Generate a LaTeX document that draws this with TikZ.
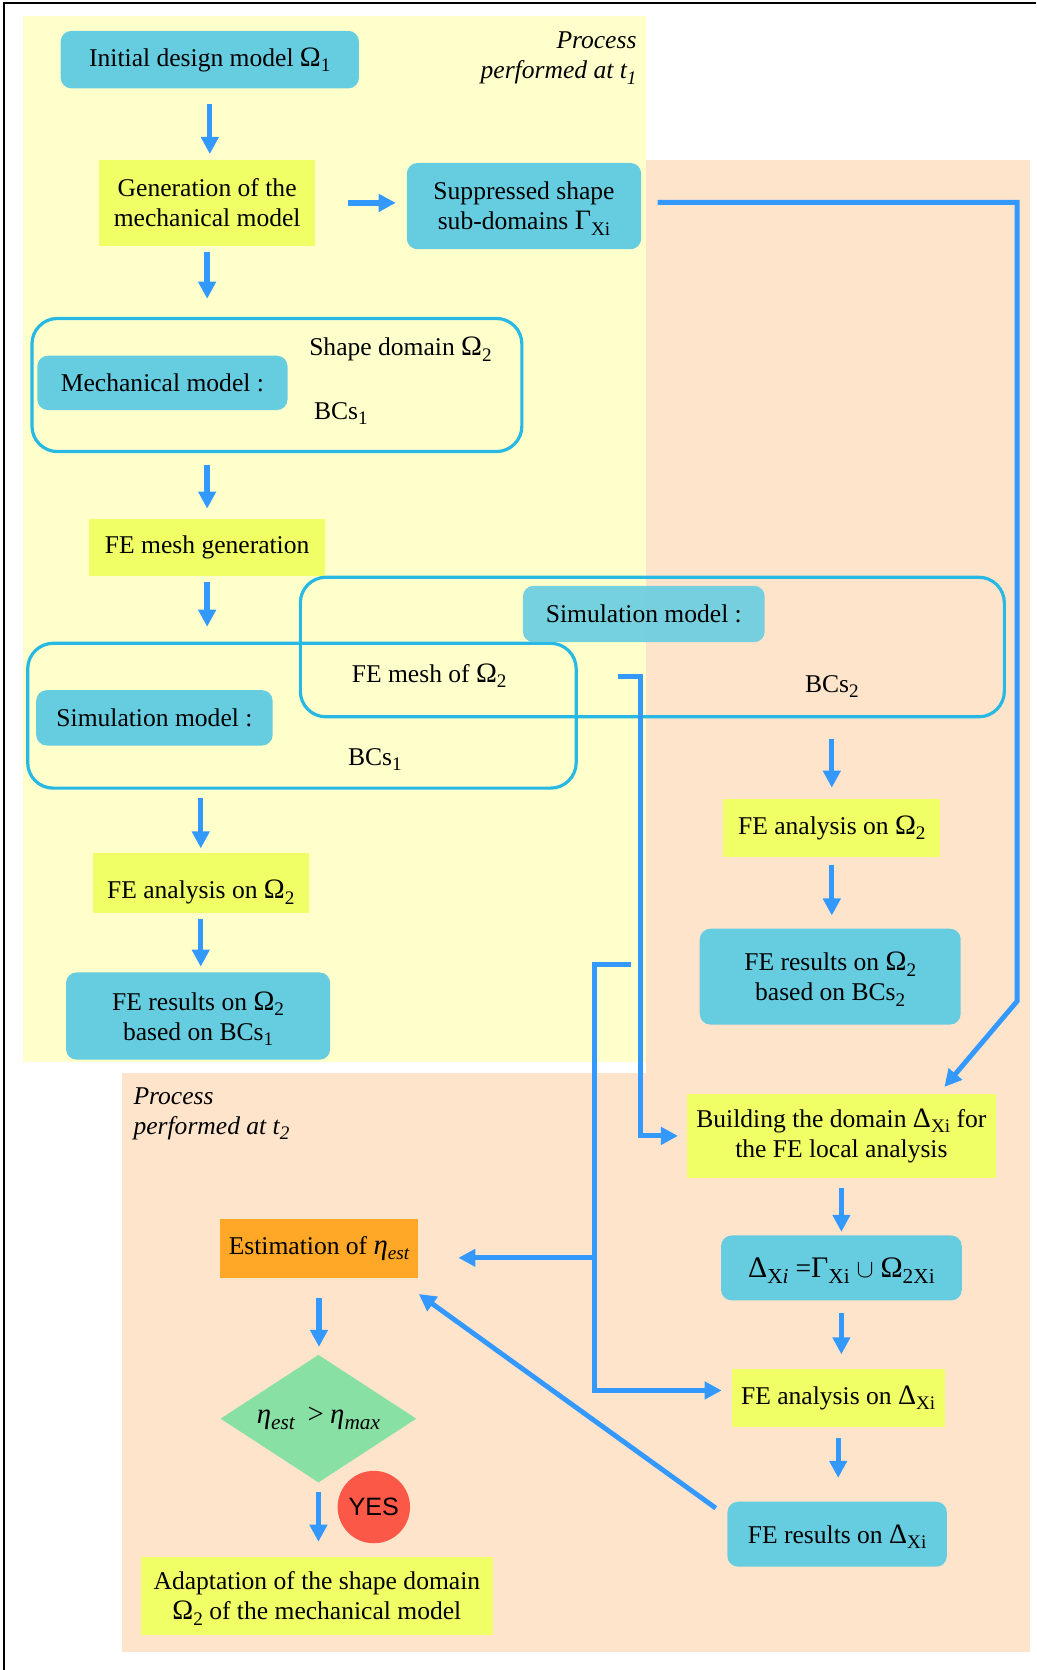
\documentclass[tikz,border=0pt]{standalone}
\usepackage{fontspec}
\setmainfont{Liberation Serif}
\newfontfamily\yesfont{Liberation Sans}
\usetikzlibrary{arrows.meta,shapes.geometric,calc}

\definecolor{paleyellow}{RGB}{255,255,204}
\definecolor{peach}{RGB}{255,228,204}
\definecolor{boxyellow}{RGB}{240,255,102}
\definecolor{boxcyan}{RGB}{102,205,225}
\definecolor{framecyan}{RGB}{40,184,228}
\definecolor{flowblue}{RGB}{51,153,255}
\definecolor{boxorange}{RGB}{255,167,38}
\definecolor{boxgreen}{RGB}{136,224,164}
\definecolor{yesred}{RGB}{252,88,72}

% index set slightly below the baseline (no effect on the line depth)
\newcommand{\lowsub}[1]{\raisebox{-0.45ex}[0pt][0pt]{\fontsize{9}{9}\selectfont #1}}
% upright capital Greek letters, a little larger than the text
\newcommand{\gOm}{{\fontsize{13.2}{14}\selectfont Ω}}
\newcommand{\gDe}{{\fontsize{13.2}{14}\selectfont Δ}}
\newcommand{\gGa}{{\fontsize{13.2}{14}\selectfont Γ}}
\newcommand{\gEta}{{\fontsize{13.5}{14}\selectfont\itshape η}}

\begin{document}
\begin{tikzpicture}[x=0.5pt,y=-0.5pt,
  every node/.style={font=\fontsize{12}{14}\selectfont, text=black},
  cyanbox/.style={fill=boxcyan, rounded corners=5pt, align=center, inner sep=0pt},
  yellowbox/.style={fill=boxyellow, align=center, inner sep=0pt},
  holder/.style={draw=framecyan, line width=1.5pt, rounded corners=12pt, inner sep=0pt},
  plain/.style={inner sep=0pt},
  titletext/.style={inner sep=0pt, font=\itshape\fontsize{12}{14}\selectfont},
  tip/.style={-{Triangle[width=8pt,length=8pt]}},
  arr/.style={draw=flowblue, line width=2.5pt, tip},
  conn/.style={draw=flowblue, line width=2.3pt},
]
\useasboundingbox (0,0) rectangle (973,1568);

% background panels for the two stages
\fill[paleyellow] (22,15) rectangle (607,997);
\fill[peach] (607,150) rectangle (967,1007);
\fill[peach] (115,1007) rectangle (967,1551);
\draw[line width=1pt] (4,1568) -- (4,3) -- (973,3);

% stage titles
\node[titletext, anchor=base east] (t1a) at (598,46) {Process};
\node[titletext, anchor=base east] (t1b) at (598,74) {performed at t\lowsub{\itshape 1}};
\node[titletext, anchor=base west] (t2a) at (125,1037) {Process};
\node[titletext, anchor=base west] (t2b) at (125,1065) {performed at t\lowsub{\itshape 2}};

% first stage
\node[cyanbox, minimum width=140pt, minimum height=27pt] (init) at (197,56) {Initial design model \gOm\lowsub{1}};
\node[yellowbox, minimum width=101.5pt, minimum height=40.5pt] (gen) at (194.5,190.5) {Generation of the\\mechanical model};
\node[cyanbox, minimum width=110pt, minimum height=40.5pt] (supp) at (492,193.5) {Suppressed shape\\sub-domains \gGa\lowsub{Xi}};

\node[holder, minimum width=230pt, minimum height=62.5pt] (mech) at (260,361.5) {};
\node[cyanbox, minimum width=117.5pt, minimum height=25.5pt] (mechlbl) at (152.5,359.5) {Mechanical model :};
\node[plain] (shape) at (376,328) {Shape domain \gOm\lowsub{2}};
\node[plain] (bcsa) at (320,386) {BCs\lowsub{1}};

\node[yellowbox, minimum width=110.5pt, minimum height=27pt] (mesh) at (194.5,514) {FE mesh generation};

\node[holder, minimum width=330.5pt, minimum height=65.5pt] (simR) at (612.5,607.5) {};
\node[holder, minimum width=257.5pt, minimum height=68pt] (simL) at (283.5,672) {};
\node[cyanbox, fill opacity=0.9, text opacity=1, minimum width=113.5pt, minimum height=26.5pt] (simRlbl) at (604.5,576.5) {Simulation model :};
\node[cyanbox, minimum width=111pt, minimum height=26pt] (simLlbl) at (145,674) {Simulation model :};
\node[plain] (meshof) at (403,632) {FE mesh of \gOm\lowsub{2}};
\node[plain] (bcsR) at (781,642) {BCs\lowsub{2}};
\node[plain] (bcsL) at (352,711) {BCs\lowsub{1}};

\node[yellowbox, minimum width=102pt, minimum height=27.5pt] (anaR) at (781,777.5) {FE analysis on \gOm\lowsub{2}};
\node[cyanbox, minimum width=122.5pt, minimum height=45pt] (resR) at (779.5,917) {FE results on \gOm\lowsub{2}\\based on BCs\lowsub{2}};
\node[yellowbox, minimum width=101.5pt, minimum height=28pt] (anaL) at (188.5,829) {\raisebox{-4.5pt}[9pt][3pt]{FE analysis on \gOm\lowsub{2}}};
\node[cyanbox, minimum width=124pt, minimum height=41pt] (resL) at (186,954) {FE results on \gOm\lowsub{2}\\based on BCs\lowsub{1}};

% second stage
\node[yellowbox, minimum width=145pt, minimum height=39.5pt] (build) at (790,1066.5) {Building the domain \gDe\lowsub{Xi} for\\the FE local analysis};
\node[cyanbox, minimum width=113pt, minimum height=30.5pt, font=\fontsize{13}{15}\selectfont] (union) at (790,1190.5) {{\fontsize{14}{15}\selectfont Δ}\lowsub{\fontsize{10}{10}\selectfont X\textit{i}} ={\fontsize{14}{15}\selectfont Γ}\lowsub{\fontsize{10}{10}\selectfont Xi} $\cup$ {\fontsize{14}{15}\selectfont Ω}\lowsub{\fontsize{10}{10}\selectfont 2Xi}};
\node[yellowbox, minimum width=100pt, minimum height=27.5pt] (anaX) at (787,1312.5) {FE analysis on \gDe\lowsub{Xi}};
\node[cyanbox, minimum width=103pt, minimum height=30.5pt] (resX) at (786,1440.5) {FE results on \gDe\lowsub{Xi}};

\node[fill=boxorange, inner sep=0pt, minimum width=92.5pt, minimum height=27.5pt] (est) at (299.5,1172.5) {Estimation of \gEta\lowsub{\itshape est}};
\node[diamond, fill=boxgreen, aspect=1.53, inner sep=0pt, minimum width=92pt, minimum height=60pt] (test) at (299,1332) {\gEta\lowsub{\fontsize{10}{10}\selectfont\itshape est}\hspace{3pt} {\fontsize{13.5}{14}\selectfont >} \gEta\lowsub{\fontsize{10}{10}\selectfont\itshape max}\hspace{2pt}};
\node[circle, fill=yesred, inner sep=0pt, minimum size=34pt, font=\yesfont\fontsize{11.8}{13}\selectfont] (yes) at (351,1415) {YES};
\node[yellowbox, minimum width=165.5pt, minimum height=36.5pt] (adapt) at (297.5,1498.5) {Adaptation of the shape domain\\\gOm\lowsub{2} of the mechanical model};

% straight flow arrows
\draw[arr, shorten <=7pt, shorten >=2.5pt] (init.south) -- (init.south |- gen.north);
\draw[arr, shorten <=15pt, shorten >=5pt] (gen.east) -- (gen.east -| supp.west);
\draw[arr, shorten <=2.5pt, shorten >=8.5pt] (gen.south) -- (gen.south |- mech.north);
\draw[arr, shorten <=5.5pt, shorten >=4.5pt] (mech.south -| mesh.north) -- (mesh.north);
\draw[arr, shorten <=2.5pt, shorten >=7pt] (mesh.south) -- (mesh.south |- simL.north);
\draw[arr, shorten <=4pt, shorten >=2pt] (anaL.north |- simL.south) -- (anaL.north);
\draw[arr, shorten <=2.5pt, shorten >=2.5pt] (anaL.south) -- (anaL.south |- resL.north);
\draw[arr, shorten <=9.5pt, shorten >=5pt] (anaR.north |- simR.south) -- (anaR.north);
\draw[arr, shorten <=3.5pt, shorten >=6pt] (anaR.south) -- (anaR.south |- resR.north);
\draw[arr, shorten <=4.5pt, shorten >=1.5pt] (build.south) -- (build.south |- union.north);
\draw[arr, shorten <=5.5pt, shorten >=6.5pt] (union.south) -- (union.south |- anaX.north);
\draw[arr, shorten <=5pt, shorten >=11pt] (anaX.south) -- (anaX.south |- resX.north);
\draw[arr, shorten <=9pt, shorten >=3.5pt] (est.south) -- (est.south |- test.north);
\draw[arr, shorten <=4pt, shorten >=7pt] (test.south) -- (test.south |- adapt.north);

% long routed connectors
\coordinate (rtop) at (955,190);
\coordinate (rbend) at (955,940);
\draw[conn, tip, shorten <=7.5pt, shorten >=4pt] (supp.east |- rtop) -- (rtop) -- (rbend) -- ($(build.north)!0.63!(build.north east)$);

\coordinate (mstart) at (580,635);
\coordinate (mbend) at (601,635);
\draw[conn, tip, shorten >=4pt] (mstart) -- (mbend) |- (build.west);

\coordinate (kstart) at (592,906);
\coordinate (kbend) at (558,906);
\coordinate (kfork) at (558,1181);
\draw[conn, tip, shorten >=4.5pt] (kstart) -- (kbend) |- ([yshift=3.5pt]anaX.west);
\draw[conn, tip, shorten >=19pt] (kfork) -- (kfork -| est.east);

\draw[conn, tip, shorten <=6.5pt, shorten >=0.5pt] ([yshift=-7pt]resX.north west) -- ([yshift=-7pt]est.south east);
\end{tikzpicture}
\end{document}
